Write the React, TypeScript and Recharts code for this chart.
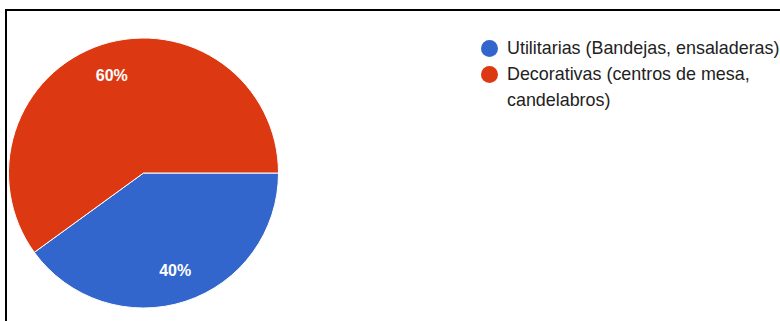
import { PieChart, Pie, Cell } from 'recharts';

const categories = ['Utilitarias (Bandejas, ensaladeras)', 'Decorativas (centros de mesa, candelabros)'];
const legendLines = [['Utilitarias (Bandejas, ensaladeras)'], ['Decorativas (centros de mesa,', 'candelabros)']];
const shares = [40, 60];
const colors = ['#3366cc', '#dc3912'];

const data = categories.map((name, i) => ({ name, value: shares[i] }));

const FONT = 'Arial, "Liberation Sans", sans-serif';
const RADIAN = Math.PI / 180;

function renderLabel(props: any) {
  const { cx, cy, midAngle, outerRadius, percent } = props;
  const r = outerRadius * 0.76;
  const x = cx + r * Math.cos(-midAngle * RADIAN);
  const y = cy + r * Math.sin(-midAngle * RADIAN);
  return (
    <text
      x={x}
      y={y}
      fill="#ffffff"
      textAnchor="middle"
      dominantBaseline="central"
      fontFamily={FONT}
      fontSize={16}
      fontWeight="bold"
    >
      {`${Math.round(percent * 100)}%`}
    </text>
  );
}

function ChartLegend() {
  return (
    <div
      style={{
        position: 'absolute',
        left: 473.5,
        top: 24,
        fontFamily: FONT,
        fontSize: 17.9,
        color: '#222222',
        whiteSpace: 'nowrap',
      }}
    >
      {legendLines.map((lines, i) => (
        <div key={i} style={{ display: 'flex', alignItems: 'flex-start' }}>
          <span
            style={{
              display: 'inline-block',
              width: 17,
              height: 17,
              borderRadius: '50%',
              background: colors[i],
              marginTop: 4.5,
              marginRight: 9.5,
              flexShrink: 0,
            }}
          />
          <div style={{ lineHeight: '26px' }}>
            {lines.map((l, j) => (
              <div key={j}>{l}</div>
            ))}
          </div>
        </div>
      ))}
    </div>
  );
}

export default function App() {
  return (
    <>
      <style>{'body{margin:0;overflow:hidden;}'}</style>
      <div
        style={{
          position: 'absolute',
          left: 5,
          top: 9,
          width: 800,
          height: 320,
          borderLeft: '2px solid #000',
          borderTop: '2px solid #000',
          background: '#fff',
        }}
      >
        <PieChart width={798} height={318} margin={{ top: 0, right: 0, bottom: 0, left: 0 }}>
          <Pie
            data={data}
            dataKey="value"
            nameKey="name"
            cx={136.5}
            cy={162}
            outerRadius={135}
            startAngle={0}
            endAngle={-360}
            stroke="#ffffff"
            strokeWidth={1}
            label={renderLabel}
            labelLine={false}
            isAnimationActive={false}
          >
            {data.map((d, i) => (
              <Cell key={d.name} fill={colors[i]} />
            ))}
          </Pie>
        </PieChart>
        <ChartLegend />
      </div>
    </>
  );
}
